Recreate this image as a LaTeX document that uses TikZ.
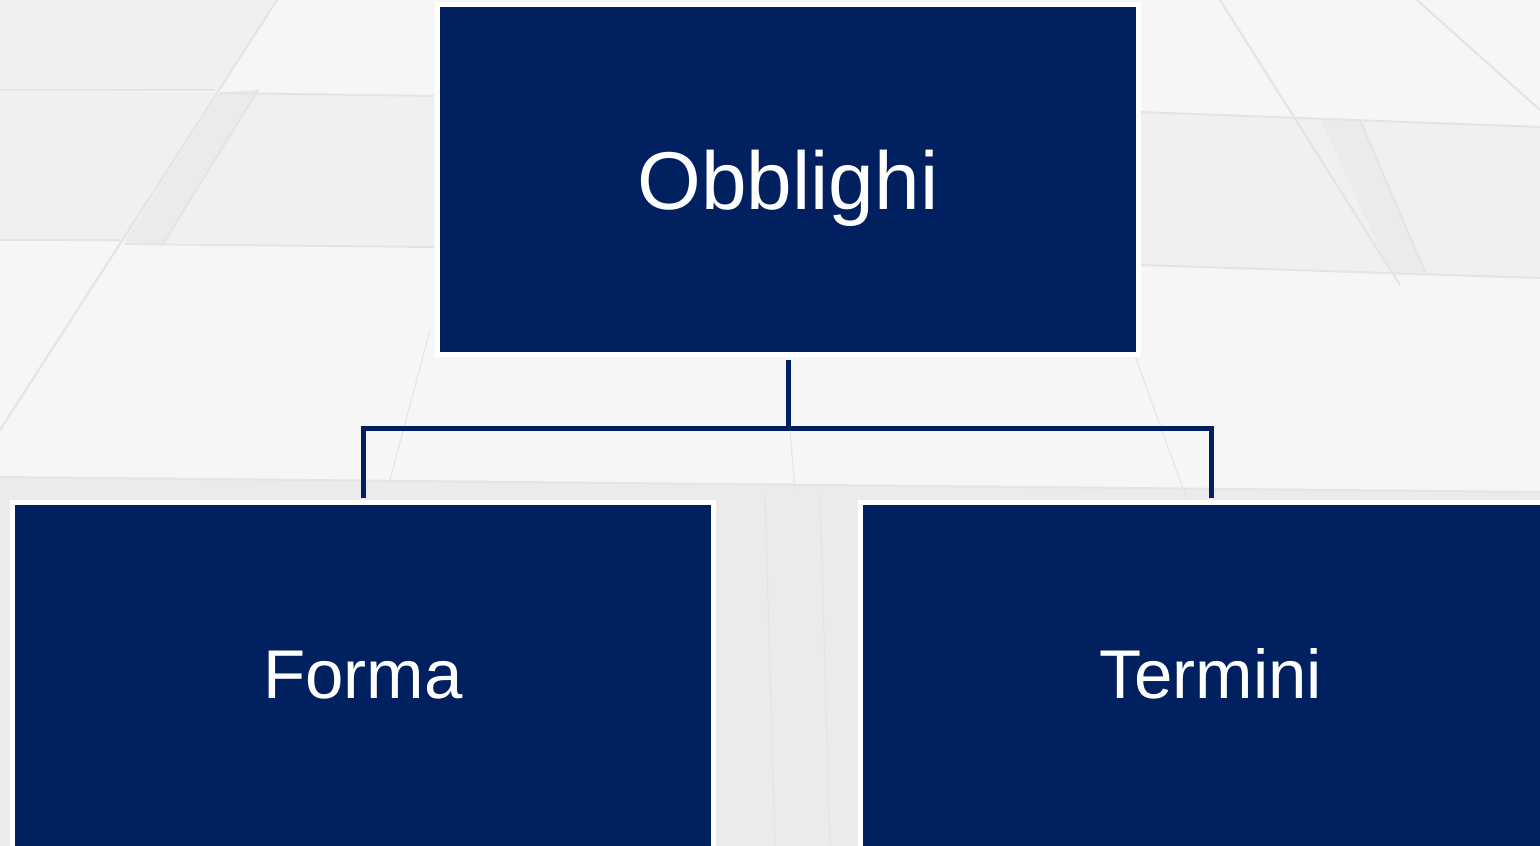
\documentclass[tikz,border=0pt]{standalone}
\usepackage{fontspec}
\setmainfont{Liberation Sans}
\definecolor{navy}{HTML}{002060}
\definecolor{tile}{HTML}{F6F6F6}
\definecolor{tiledark}{HTML}{F0F0F0}
\definecolor{tilelow}{HTML}{EBEBEB}
\definecolor{seam}{HTML}{E4E4E4}
\tikzset{
  box/.style={rectangle, fill=navy, draw=white, line width=5pt,
    minimum width=701pt, minimum height=350pt, inner sep=0pt,
    text=white},
  link/.style={draw=navy, line width=5pt},
  seamline/.style={draw=seam, line width=2pt},
  faintline/.style={draw=seam, line width=1pt}
}
\begin{document}
\begin{tikzpicture}[x=1pt, y=-1pt]
      \useasboundingbox (0,0) rectangle (1540,846);
      % floor tiles behind the chart
      \fill[tile] (0,0) rectangle (1540,846);
      \fill[tiledark] (0,0) -- (277,0) -- (219,90) -- (0,90) -- cycle;
      \fill[tiledark] (0,90) -- (434,96) -- (434,247) -- (0,240) -- cycle;
      \fill[tiledark] (1140,112) -- (1540,127) -- (1540,278) -- (1140,265) -- cycle;
      \fill[tilelow] (0,477) -- (1540,492) -- (1540,846) -- (0,846) -- cycle;
      \fill[tilelow] (258,90) -- (220,92) -- (125,242) -- (163,244) -- cycle;
      \fill[tilelow] (1320,118) -- (1360,120) -- (1425,272) -- (1390,271) -- cycle;
      \draw[seamline] (0,90) -- (215,90);
      \draw[seamline] (220,93) -- (434,96);
      \draw[seamline] (0,240) -- (120,240);
      \draw[seamline] (125,244) -- (434,247);
      \draw[seamline] (0,477) -- (1540,492);
      \draw[seamline] (277,0) -- (0,430);
      \draw[seamline] (258,90) -- (163,244);
      \draw[seamline] (1140,112) -- (1540,127);
      \draw[seamline] (1140,265) -- (1540,278);
      \draw[seamline] (1220,0) -- (1400,285);
      \draw[seamline] (1360,120) -- (1425,272);
      \draw[seamline] (1417,0) -- (1540,110);
      \draw[faintline] (430,330) -- (390,480);
      \draw[faintline] (1133,350) -- (1187,500);
      \draw[faintline] (790,430) -- (795,490);
      \draw[faintline] (765,495) -- (775,846);
      \draw[faintline] (820,495) -- (830,846);
      % chart
      \node[box, text height=59pt, text depth=0pt, font=\fontsize{82}{98}\selectfont] (obblighi) at (788,179.5) {Obblighi};
      \node[box, text height=49.4pt, text depth=8.4pt, font=\fontsize{69}{82}\selectfont] (forma) at (363,677.5) {Forma};
      \node[box, text height=49.4pt, text depth=8.4pt, font=\fontsize{69}{82}\selectfont] (termini) at (1211,677.5) {Termini};
      \coordinate (split) at (788,428);
      \draw[link] ([yshift=-3pt]obblighi.south) -- (split);
      \draw[link] ([yshift=2.5pt]forma.north) -- (forma.north |- split) -- (termini.north |- split) -- ([yshift=2.5pt]termini.north);
    \end{tikzpicture}
\end{document}
